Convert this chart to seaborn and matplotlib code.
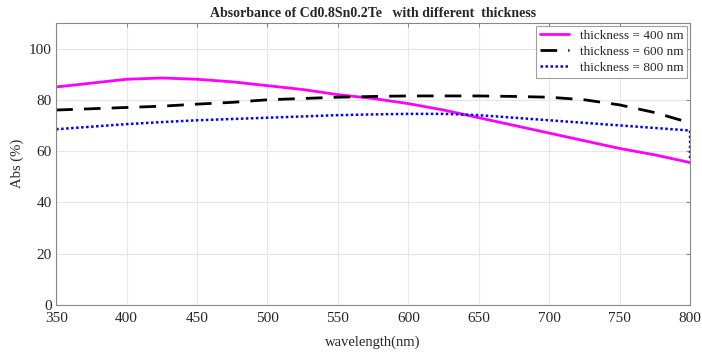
import numpy as np
import pandas as pd
import seaborn as sns
import matplotlib
matplotlib.use("Agg")
import matplotlib.pyplot as plt

# wavelength grid (nm)
wavelength = [350, 375, 400, 425, 450, 475, 500, 525, 550, 575, 600,
              625, 650, 675, 700, 725, 750, 775, 800]

abs_400 = [85, 86.5, 88, 88.5, 88, 87, 85.5, 84, 82, 80.5, 78.5,
           76, 73, 70, 67, 64, 61, 58.5, 55.5]
abs_600 = [76, 76.5, 77, 77.5, 78.3, 79, 80, 80.5, 81, 81.3, 81.5,
           81.5, 81.5, 81.3, 81, 80, 78, 75, 71]
abs_800 = [68.5, 69.5, 70.5, 71.3, 72, 72.5, 73, 73.5, 74, 74.3, 74.5,
           74.5, 74, 73, 72, 71, 70, 69, 68]
# blue curve drops at the end of the range
wavelength_800 = wavelength + [800]
abs_800 = abs_800 + [57]

labels = ["thickness = 400 nm", "thickness = 600 nm", "thickness = 800 nm"]

sns.set_style("whitegrid")
plt.rcParams['font.family'] = ['Liberation Serif', 'DejaVu Serif']
plt.rcParams['xtick.direction'] = 'in'
plt.rcParams['ytick.direction'] = 'in'

fig = plt.figure(figsize=(7.02, 3.52), dpi=100)
ax = fig.add_axes([0.080, 0.134, 0.903, 0.801])

sns.lineplot(x=wavelength, y=abs_400, color="#ff00ff", linewidth=2,
             label=labels[0], ax=ax)
sns.lineplot(x=wavelength, y=abs_600, color="black", linewidth=2,
             linestyle=(0, (6, 4)), label=labels[1], ax=ax)
sns.lineplot(x=wavelength_800, y=abs_800, color="#0000ff", linewidth=1.8,
             linestyle=(0, (1, 1)), label=labels[2], ax=ax,
             sort=False, estimator=None)

ax.set_xlim(350, 800)
ax.set_ylim(0, 110)
ax.set_xticks(range(350, 801, 50))
ax.set_yticks(range(0, 101, 20))
ax.grid(True, color="#e6e6e6", linewidth=0.8)
for s in ax.spines.values():
    s.set_color("#888888")
    s.set_linewidth(0.8)
ax.tick_params(axis='both', labelsize=11, length=3, color="#888888",
               top=True, right=True)
ax.tick_params(axis='x', pad=5)
ax.tick_params(axis='y', pad=3)

ax.set_xlabel("wavelength(nm)", fontsize=10.5, labelpad=8)
ax.set_ylabel("Abs (%)", fontsize=10.5, labelpad=4)
ax.set_title("Absorbance of Cd0.8Sn0.2Te   with different  thickness",
             fontsize=10, fontweight="bold", pad=4)

leg = ax.legend(loc="upper right", fontsize=9.5, frameon=True, fancybox=False,
                handlelength=2.2, borderpad=0.3, labelspacing=0.3,
                borderaxespad=0.2)
leg.get_frame().set_edgecolor("#888888")
leg.get_frame().set_linewidth(0.8)

fig.savefig("out.png", dpi=100)
